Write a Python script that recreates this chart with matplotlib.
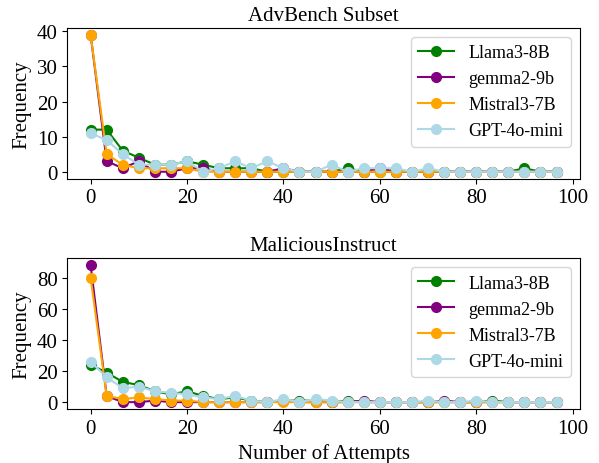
import numpy as np
import matplotlib
matplotlib.use("Agg")
import matplotlib.pyplot as plt
from matplotlib.ticker import MultipleLocator

plt.rcParams['font.family'] = ['Liberation Serif', 'DejaVu Serif']
plt.rcParams['font.size'] = 14

n_bins = 30
x = np.arange(n_bins) * 100 / n_bins

labels = ["Llama3-8B", "gemma2-9b", "Mistral3-7B", "GPT-4o-mini"]
colors = ["green", "purple", "orange", "lightblue"]

adv_llama = [12, 12, 6, 4, 2, 2, 3, 2, 1, 1, 1, 0, 0, 0, 0, 0, 1, 0, 0, 0, 0, 0, 0, 0, 0, 0, 0, 1, 0, 0]
adv_gemma = [39, 3, 1, 3, 0, 0, 1, 1, 0, 0, 0, 0, 1, 0, 0, 0, 0, 0, 1, 0, 0, 0, 0, 0, 0, 0, 0, 0, 0, 0]
adv_mistral = [39, 5, 2, 1, 1, 1, 1, 0, 0, 0, 0, 0, 0, 0, 0, 0, 0, 0, 0, 0, 0, 0, 0, 0, 0, 0, 0, 0, 0, 0]
adv_gpt = [11, 9, 5, 2, 2, 2, 3, 0, 1, 3, 1, 3, 1, 0, 0, 2, 0, 1, 1, 1, 0, 1, 0, 0, 0, 0, 0, 0, 0, 0]

mal_llama = [24, 19, 13, 11, 7, 5, 7, 4, 2, 3, 1, 0, 1, 1, 1, 0, 1, 0, 0, 0, 0, 0, 0, 0, 0, 1, 0, 0, 0, 0]
mal_gemma = [88, 4, 0, 0, 1, 0, 0, 0, 0, 0, 0, 0, 1, 0, 0, 0, 0, 1, 0, 0, 0, 0, 1, 0, 0, 0, 0, 0, 0, 0]
mal_mistral = [80, 4, 2, 3, 2, 1, 1, 0, 0, 0, 0, 0, 0, 0, 0, 0, 0, 0, 0, 0, 0, 0, 0, 0, 0, 0, 0, 0, 0, 0]
mal_gpt = [26, 16, 9, 10, 7, 6, 5, 3, 2, 4, 1, 0, 2, 0, 2, 1, 0, 0, 0, 0, 0, 1, 0, 0, 1, 0, 0, 0, 0, 0]

panels = [
    ("AdvBench Subset", [adv_llama, adv_gemma, adv_mistral, adv_gpt], 10),
    ("MaliciousInstruct", [mal_llama, mal_gemma, mal_mistral, mal_gpt], 20),
]

fig, axes = plt.subplots(2, 1, figsize=(5.99, 4.64), dpi=100)
fig.subplots_adjust(left=0.1124, right=0.968, top=0.9375, bottom=0.1164, hspace=0.53)

for ax, (title, series, ystep) in zip(axes, panels):
    for vals, lab, col in zip(series, labels, colors):
        ax.plot(x, vals, marker='o', color=col, label=lab, linewidth=1.5, markersize=7)
    ax.set_title(title, fontsize=15)
    ax.set_ylabel("Frequency", fontsize=15)
    ax.set_xticks([0, 20, 40, 60, 80, 100])
    ax.yaxis.set_major_locator(MultipleLocator(ystep))
    ax.tick_params(labelsize=15)
    ax.legend(loc='upper right', fontsize=13)

axes[1].set_xlabel("Number of Attempts", fontsize=15)

fig.savefig("out.png", dpi=100)
